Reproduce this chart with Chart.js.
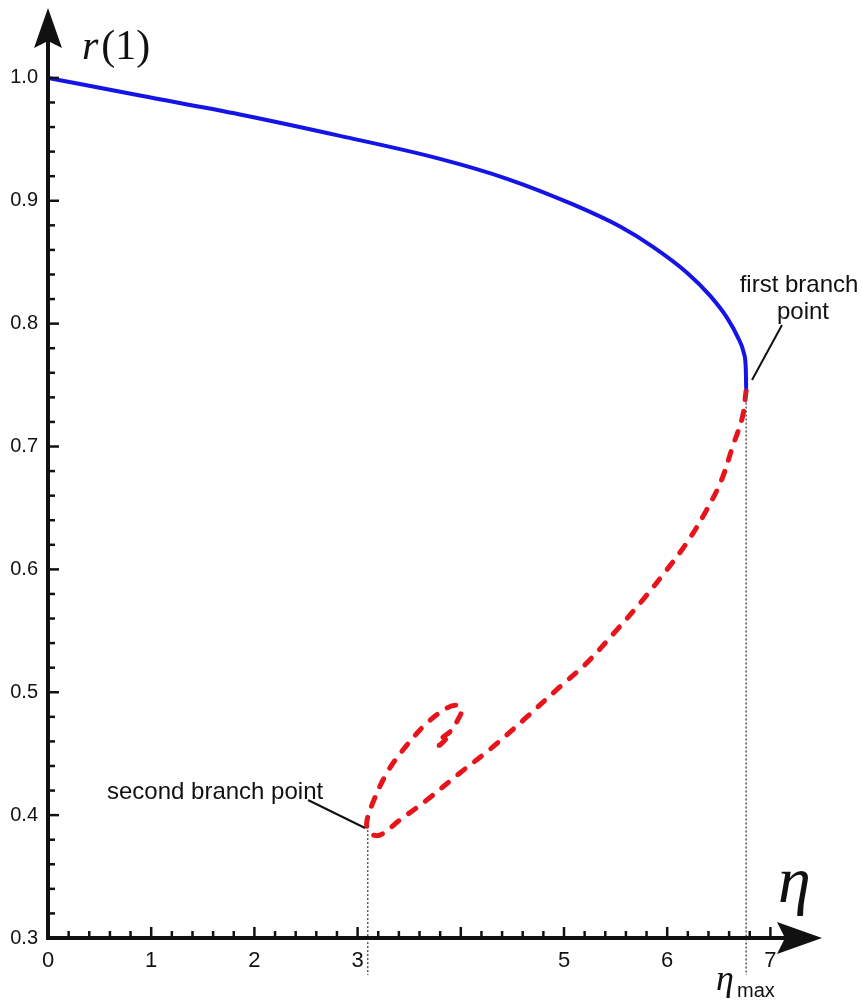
<!DOCTYPE html>
<html>
<head>
<meta charset="utf-8">
<script src="https://cdn.jsdelivr.net/npm/chart.js@4/dist/chart.umd.min.js"></script>
<style>
  html, body { margin: 0; padding: 0; background: #fff; }
  #wrap { width: 862px; height: 1001px; position: relative; }
</style>
</head>
<body>
<div id="wrap"><canvas id="chart"></canvas></div>
<script>
// stable branch (upper, solid blue)
const blueEta = [0, 0.891, 1.86, 2.829, 3.798, 4.448, 5.087, 5.543, 5.862, 6.192, 6.415, 6.579, 6.686, 6.744, 6.762, 6.765];
const blueR   = [1.0, 0.9856, 0.9702, 0.9528, 0.9341, 0.9179, 0.897, 0.879, 0.8625, 0.8415, 0.8228, 0.8049, 0.7886,
                 0.7756, 0.762, 0.748];

// unstable branch (red dashed spiral)
const redEta = [6.765, 6.728, 6.631, 6.525, 6.380, 6.186, 5.992, 5.760, 5.508, 5.218, 4.956, 4.637, 4.308, 3.988,
                3.669, 3.408, 3.214, 3.117, 3.088, 3.146, 3.282, 3.437, 3.669, 3.863, 3.959, 4.008, 3.969, 3.911,
                3.814, 3.766, 3.795, 3.872];
const redR   = [0.7455, 0.7236, 0.6992, 0.6724, 0.6480, 0.6211, 0.5992, 0.5748, 0.5504, 0.5236, 0.5041, 0.4797,
                0.4553, 0.4341, 0.4122, 0.3959, 0.3837, 0.3854, 0.3935, 0.4098, 0.4341, 0.4528, 0.4748, 0.4870,
                0.4894, 0.4854, 0.4772, 0.4691, 0.4626, 0.4585, 0.4569, 0.4634];

// branch points (eta, r)
const branchEta = [6.765, 3.098];
const branchR   = [0.748, 0.3935];

const xTickLabels = [0, 1, 2, 3, 5, 6, 7];
const yTickLabels = [0.3, 0.4, 0.5, 0.6, 0.7, 0.8, 0.9, 1.0];

const toPts = (xs, ys) => xs.map((x, i) => ({ x: x, y: ys[i] }));
const near = (a, b) => Math.abs(a - b) < 1e-6;

const axesPlugin = {
    id: 'axes',
    afterDraw(chart) {
        const ctx = chart.ctx;
        const xs = chart.scales.x, ys = chart.scales.y;
        const x0 = xs.getPixelForValue(0), y0 = ys.getPixelForValue(0.3);
        ctx.save();

        // dotted guide lines from branch points down past the axis
        ctx.strokeStyle = '#555';
        ctx.lineWidth = 1.5;
        ctx.setLineDash([2, 2]);
        branchEta.forEach((e, i) => {
            const px = xs.getPixelForValue(e);
            ctx.beginPath();
            ctx.moveTo(px, ys.getPixelForValue(branchR[i]) + 3);
            ctx.lineTo(px, 975);
            ctx.stroke();
        });
        ctx.setLineDash([]);

        // tick marks pointing into the plot
        ctx.strokeStyle = '#111';
        ctx.lineWidth = 2.5;
        xs.ticks.forEach(t => {
            if (t.value > 7.05) return;
            const major = near(t.value, Math.round(t.value));
            const px = xs.getPixelForValue(t.value);
            ctx.beginPath();
            ctx.moveTo(px, y0);
            ctx.lineTo(px, y0 - (major ? 11 : 7));
            ctx.stroke();
        });
        ys.ticks.forEach(t => {
            if (t.value > 1.001) return;
            const major = near(t.value * 10, Math.round(t.value * 10));
            const py = ys.getPixelForValue(t.value);
            ctx.beginPath();
            ctx.moveTo(x0, py);
            ctx.lineTo(x0 + (major ? 11 : 7), py);
            ctx.stroke();
        });

        // axis lines
        ctx.lineWidth = 4;
        ctx.beginPath();
        ctx.moveTo(x0 - 2, y0);
        ctx.lineTo(790, y0);
        ctx.moveTo(x0, y0 + 2);
        ctx.lineTo(x0, 40);
        ctx.stroke();

        // arrow heads
        ctx.fillStyle = '#111';
        ctx.beginPath();
        ctx.moveTo(822, y0);
        ctx.lineTo(777, y0 - 16);
        ctx.lineTo(785, y0);
        ctx.lineTo(777, y0 + 16);
        ctx.closePath();
        ctx.fill();
        ctx.beginPath();
        ctx.moveTo(x0, 8);
        ctx.lineTo(x0 - 14, 48);
        ctx.lineTo(x0, 41);
        ctx.lineTo(x0 + 14, 48);
        ctx.closePath();
        ctx.fill();

        // leader lines
        ctx.lineWidth = 2;
        ctx.beginPath();
        ctx.moveTo(782, 325);
        ctx.lineTo(752, 380);
        ctx.moveTo(308, 800);
        ctx.lineTo(365, 828);
        ctx.stroke();

        // text
        ctx.fillStyle = '#111';
        ctx.textBaseline = 'alphabetic';
        ctx.font = '24px "Liberation Sans", Arial, sans-serif';
        ctx.textAlign = 'center';
        ctx.fillText('first branch', 799, 292);
        ctx.fillText('point', 803, 319);
        ctx.textAlign = 'left';
        ctx.fillText('second branch point', 107, 799);

        // axis titles
        ctx.font = 'italic 42px "Liberation Serif", serif';
        ctx.fillText('r', 82, 59);
        const rw = ctx.measureText('r').width;
        ctx.font = '42px "Liberation Serif", serif';
        ctx.fillText('(1)', 82 + rw + 3, 59);

        ctx.font = 'italic 66px "Liberation Serif", serif';
        ctx.fillText('\u03b7', 778, 902);

        ctx.font = 'italic 36px "Liberation Serif", serif';
        ctx.fillText('\u03b7', 716, 990);
        ctx.font = '20px "Liberation Sans", Arial, sans-serif';
        ctx.fillText('max', 737, 997);

        ctx.restore();
    }
};

new Chart(document.getElementById('chart'), {
    type: 'scatter',
    data: {
        datasets: [
            {
                label: 'stable',
                data: toPts(blueEta, blueR),
                showLine: true,
                borderColor: '#1414e6',
                borderWidth: 4,
                cubicInterpolationMode: 'monotone',
                pointRadius: 0,
                borderCapStyle: 'round'
            },
            {
                label: 'unstable',
                data: toPts(redEta, redR),
                showLine: true,
                borderColor: '#e8141c',
                borderWidth: 5,
                borderDash: [9, 12],
                borderCapStyle: 'round',
                tension: 0.35,
                pointRadius: 0
            }
        ]
    },
    options: {
        responsive: true,
        maintainAspectRatio: false,
        animation: false,
        layout: { padding: { left: 0, top: 8, right: 40, bottom: 0 } },
        plugins: { legend: { display: false }, tooltip: { enabled: false } },
        scales: {
            x: {
                type: 'linear',
                min: 0,
                max: 7.5,
                grid: { display: false },
                border: { display: false },
                afterFit: s => { s.height = 63; },
                ticks: {
                    stepSize: 0.2,
                    autoSkip: false,
                    maxRotation: 0,
                    padding: 2,
                    color: '#111',
                    font: { family: '"Liberation Sans", Arial, sans-serif', size: 22 },
                    callback: v => xTickLabels.find(l => near(l, v)) !== undefined ? String(Math.round(v)) : ''
                }
            },
            y: {
                type: 'linear',
                min: 0.3,
                max: 1.052,
                grid: { display: false },
                border: { display: false },
                afterFit: s => { s.width = 48; },
                ticks: {
                    stepSize: 0.02,
                    autoSkip: false,
                    padding: 2,
                    color: '#111',
                    font: { family: '"Liberation Sans", Arial, sans-serif', size: 20 },
                    callback: v => yTickLabels.find(l => near(l, v)) !== undefined ? v.toFixed(1) : ''
                }
            }
        }
    },
    plugins: [axesPlugin]
});
</script>
</body>
</html>
